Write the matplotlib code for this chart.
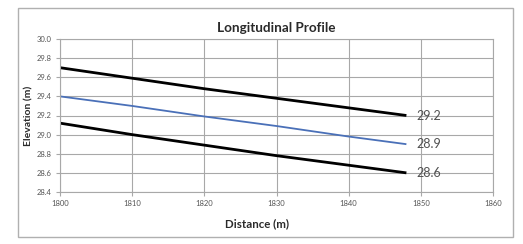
import numpy as np
import matplotlib
matplotlib.use("Agg")
import matplotlib.pyplot as plt
from matplotlib.patches import Rectangle

plt.rcParams['font.family'] = ['Lato', 'DejaVu Sans']

# data
distance = [1800, 1810, 1820, 1830, 1840, 1848]
upper = [29.70, 29.59, 29.48, 29.38, 29.28, 29.20]
profile = [29.40, 29.30, 29.19, 29.09, 28.98, 28.90]
lower = [29.12, 29.00, 28.89, 28.78, 28.68, 28.60]
end_labels = ["29.2", "28.9", "28.6"]
xticks = [1800, 1810, 1820, 1830, 1840, 1850, 1860]
yticks = [28.4, 28.6, 28.8, 29.0, 29.2, 29.4, 29.6, 29.8, 30.0]

fig = plt.figure(figsize=(5.23, 2.44), dpi=100)
fig.patch.set_facecolor("white")
fig.patches.append(Rectangle((18/523, 1-237/244), 495/523, 229/244,
                             transform=fig.transFigure, fill=False,
                             edgecolor="#b0b0b0", lw=1.0))

ax = fig.add_axes([60/523, 1-192/244, 433/523, 153/244])
grid_c = "#a8a8a8"
ax.plot(distance, upper, color="black", lw=2.0, solid_capstyle="butt")
ax.plot(distance, profile, color="#4a70b8", lw=1.3, solid_capstyle="butt")
ax.plot(distance, lower, color="black", lw=2.0, solid_capstyle="butt")

for series, lab in zip([upper, profile, lower], end_labels):
    ax.annotate(lab, (distance[-1], series[-1]), xytext=(7, 0),
                textcoords="offset points", va="center", ha="left",
                fontsize=9, color="#505050")

ax.set_xlim(1800, 1860)
ax.set_ylim(28.4, 30.0)
ax.set_xticks(xticks)
ax.set_yticks(yticks)
ax.set_xticklabels([str(v) for v in xticks])
ax.set_yticklabels(["%.1f" % v for v in yticks])
ax.tick_params(labelsize=5.5, colors="#555555", length=3, width=0.8,
               color=grid_c, pad=3)
ax.grid(True, color=grid_c, lw=0.8)
ax.set_axisbelow(True)
for s in ax.spines.values():
    s.set_color(grid_c)
    s.set_linewidth(0.8)

ax.set_title("Longitudinal Profile", fontsize=9.7, fontweight="bold",
             color="#2a2a2a", pad=5)
ax.set_xlabel("Distance (m)", fontsize=8.3, fontweight="bold",
              color="#2a2a2a")
ax.xaxis.set_label_coords(197/433, -0.17)
ax.set_ylabel("Elevation (m)", fontsize=7.5, fontweight="bold",
              color="#2a2a2a")
ax.yaxis.set_label_coords(-27/433, 0.5)

fig.savefig("out.png", dpi=100)
